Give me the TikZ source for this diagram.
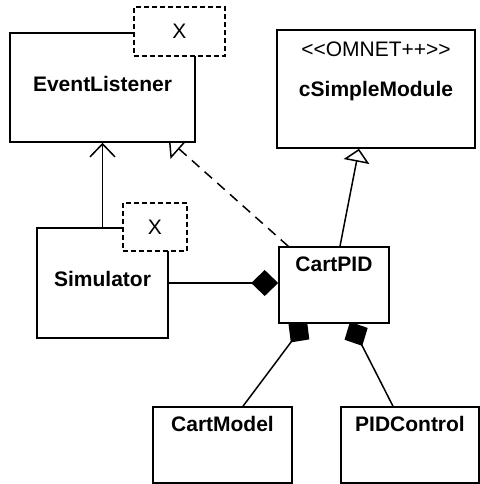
\documentclass[tikz,border=0pt]{standalone}
\usepackage{fontspec}
\setmainfont{Liberation Sans}
\usepackage{tikz}
\usetikzlibrary{arrows.meta, calc, backgrounds}

\begin{document}
\begin{tikzpicture}[
    x=0.5pt, y=-0.5pt,
    font=\fontsize{10.5}{12.6}\selectfont,
    classbox/.style={draw, fill=white, line width=0.8pt, inner sep=0pt},
    tmplbox/.style={draw, fill=white, line width=0.8pt, dash pattern=on 2.5pt off 1.5pt, inner sep=0pt},
    conn/.style={line width=0.75pt},
    assoc/.style={conn, -{Straight Barb[length=6.5pt, width=12.5pt]}},
    realize/.style={conn, dash pattern=on 5pt off 3.5pt, -{Triangle[open, length=7pt, width=13pt]}},
    inherit/.style={conn, -{Triangle[open, length=6.5pt, width=13pt]}},
    compose/.style={conn, -{Diamond[length=13.5pt, width=13pt]}},
]
    \useasboundingbox (0,0) rectangle (480,484);

    % EventListener node
    \node[classbox, minimum width=92.5pt, minimum height=54.5pt,
          label={[anchor=center, yshift=-26pt]north:\textbf{EventListener}}] (eventlistener) at (102.5,87.5) {};

    % cSimpleModule node
    \node[classbox, minimum width=99pt, minimum height=59pt,
          label={[anchor=center, yshift=-10pt]north:<{}<OMNET++>{}>},
          label={[anchor=center, yshift=-31pt]north:\textbf{cSimpleModule}}] (csimplemodule) at (376,89) {};

    % Simulator node
    \node[classbox, minimum width=65.5pt, minimum height=55pt,
          label={[anchor=center, yshift=-26pt]north:\textbf{Simulator}}] (simulator) at (102.5,283) {};

    % CartPID node
    \node[classbox, minimum width=55pt, minimum height=38pt,
          label={[anchor=center, yshift=-9pt]north:\textbf{CartPID}}] (cartpid) at (334,285) {};

    % CartModel node
    \node[classbox, minimum width=69.5pt, minimum height=38pt,
          label={[anchor=center, yshift=-9pt]north:\textbf{CartModel}}] (cartmodel) at (222.5,445) {};

    % PIDControl node
    \node[classbox, minimum width=69pt, minimum height=38pt,
          label={[anchor=center, yshift=-9pt]north:\textbf{PIDControl}}] (pidcontrol) at (410,445) {};

    % Template parameters
    \node[tmplbox, minimum width=45.5pt, minimum height=24.5pt] (eventlistenerx) at (179.5,31.5) {X};
    \node[tmplbox, minimum width=32pt, minimum height=24pt] (simulatorx) at (155,227) {X};

    % Connections
    \begin{scope}[on background layer]
        \draw[assoc] (simulator) -- (eventlistener);
        \draw[realize] ($(cartpid.north west)+(10,0)$) -- ($(eventlistener.south east)+(-27,-3)$);
        \draw[inherit] ($(cartpid.north)+(6,0)$) -- ($(csimplemodule.south)+(-17,0)$);
        \draw[compose] (simulator.east) -- (simulator.east -| cartpid.west);
        \draw[compose] ($(cartmodel.north)+(20.5,0)$) -- ($(cartpid.south)+(-27,-3)$);
        \draw[compose] ($(pidcontrol.north)+(-17,0)$) -- ($(cartpid.south)+(16,-2)$);
    \end{scope}

\end{tikzpicture}
\end{document}
